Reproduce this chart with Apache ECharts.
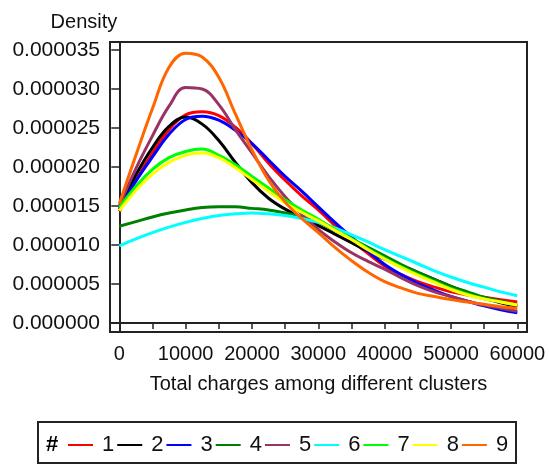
<!DOCTYPE html>
<html>
<head>
<meta charset="utf-8">
<script src="https://cdn.jsdelivr.net/npm/echarts@6/dist/echarts.min.js"></script>
<style>
  html, body { margin: 0; padding: 0; background: #fff; }
  #chart { width: 549px; height: 465px; }
</style>
</head>
<body>
<div id="chart"></div>
<script>
// density values are in units of 1e-6, read every 2500 of charges
var charges = [0, 2500, 5000, 7500, 10000, 12500, 15000, 17500, 20000, 22500, 25000, 27500, 30000,
    32500, 35000, 37500, 40000, 42500, 45000, 47500, 50000, 52500, 55000, 57500, 60000];
var clusterNames = ['1', '2', '3', '4', '5', '6', '7', '8', '9'];
var clusterColors = ['#ff0000', '#000000', '#0000ff', '#008000', '#993366', '#00ffff', '#00ff00', '#ffff00', '#ff6600'];

var c1 = [14.3, 18.3, 21.8, 24.8, 26.7, 27.1, 26.6, 25.1, 23.0, 20.5, 18.3, 16.3, 14.5, 12.5, 10.6, 8.9, 7.3, 6.2, 5.3, 4.6, 4.0, 3.6, 3.3, 3.0, 2.7];
var c2 = [14.8, 19.0, 22.5, 25.2, 26.4, 25.5, 23.4, 20.6, 18.0, 16.0, 14.6, 13.5, 12.5, 11.4, 10.3, 9.2, 8.2, 7.4, 6.5, 5.6, 4.7, 3.9, 3.2, 2.6, 2.1];
var c3 = [14.6, 18.2, 21.3, 24.2, 26.1, 26.5, 26.0, 24.7, 23.0, 20.9, 18.8, 16.9, 14.9, 12.9, 11.0, 9.2, 7.5, 6.2, 5.1, 4.2, 3.4, 2.8, 2.2, 1.7, 1.3];
var c4 = [12.4, 13.0, 13.6, 14.1, 14.5, 14.8, 14.9, 14.9, 14.7, 14.5, 14.1, 13.6, 12.9, 11.9, 10.8, 9.7, 8.6, 7.5, 6.5, 5.6, 4.7, 4.0, 3.3, 2.8, 2.3];
var c5 = [15.0, 19.8, 24.0, 27.8, 30.2, 30.0, 28.0, 24.8, 21.8, 18.8, 16.2, 14.0, 12.0, 10.4, 9.0, 7.9, 6.9, 5.8, 4.8, 4.0, 3.4, 2.8, 2.3, 1.9, 1.5];
var c6 = [9.9, 10.8, 11.6, 12.3, 12.9, 13.4, 13.8, 14.0, 14.1, 14.0, 13.8, 13.4, 12.9, 12.2, 11.3, 10.4, 9.4, 8.5, 7.6, 6.7, 5.9, 5.2, 4.6, 4.0, 3.5];
var c7 = [14.8, 17.5, 19.7, 21.2, 22.0, 22.3, 21.5, 20.3, 18.8, 17.3, 15.8, 14.5, 13.3, 12.0, 10.8, 9.5, 8.3, 7.2, 6.2, 5.3, 4.4, 3.7, 3.1, 2.7, 2.3];
var c8 = [14.4, 17.0, 19.1, 20.6, 21.5, 21.8, 21.2, 19.9, 18.4, 16.9, 15.4, 14.2, 13.1, 11.9, 10.7, 9.4, 8.2, 7.1, 6.1, 5.2, 4.3, 3.6, 3.1, 2.7, 2.3];
var c9 = [15.3, 21.5, 27.5, 32.8, 34.6, 34.1, 31.5, 26.8, 22.2, 18.3, 15.5, 13.4, 11.6, 9.7, 8.0, 6.5, 5.3, 4.5, 3.8, 3.4, 3.0, 2.7, 2.4, 2.1, 1.9];
var clusterValues = [c1, c2, c3, c4, c5, c6, c7, c8, c9];

var xTicks = [0, 5000, 10000, 15000, 20000, 25000, 30000, 35000, 40000, 45000, 50000, 55000, 60000];
var xLabels = [0, 10000, 20000, 30000, 40000, 50000, 60000];
var yTicks = [0, 5, 10, 15, 20, 25, 30, 35];

var font = 'Liberation Sans, Arial, sans-serif';

var chart = echarts.init(document.getElementById('chart'));

var series = clusterNames.map(function (name, i) {
    return {
        name: name,
        type: 'line',
        smooth: 0.4,
        showSymbol: false,
        lineStyle: {color: clusterColors[i], width: 3},
        itemStyle: {color: clusterColors[i]},
        data: charges.map(function (x, j) { return [x, clusterValues[i][j]]; })
    };
});

chart.setOption({
    animation: false,
    textStyle: {fontFamily: font},
    grid: {
        left: 110, right: 22, top: 42, bottom: 133,
        show: true,
        borderColor: '#222',
        borderWidth: 2
    },
    xAxis: {
        type: 'value',
        min: -1400,
        max: 61460,
        name: 'Total charges among different clusters',
        nameLocation: 'middle',
        nameGap: 42,
        nameTextStyle: {fontSize: 20, color: '#111', fontFamily: font},
        axisLine: {show: true, lineStyle: {color: '#222', width: 2}},
        axisTick: {show: true, length: 6, lineStyle: {color: '#222', width: 1.5}, customValues: xTicks},
        axisLabel: {
            fontSize: 20, color: '#111', margin: 12, customValues: xLabels,
            formatter: function (v) { return String(v); }
        },
        splitLine: {show: false}
    },
    yAxis: {
        type: 'value',
        min: -1.15,
        max: 36.03,
        name: 'Density',
        nameLocation: 'end',
        nameGap: 10,
        nameTextStyle: {fontSize: 20, color: '#111', align: 'right', padding: [0, 2, 0, 0], fontFamily: font},
        axisLine: {show: true, lineStyle: {color: '#222', width: 2}},
        axisTick: {show: true, length: 8, lineStyle: {color: '#222', width: 1.5}, customValues: yTicks},
        axisLabel: {
            fontSize: 21, color: '#111', margin: 10, customValues: yTicks,
            formatter: function (v) { return (v / 1e6).toFixed(6); }
        },
        splitLine: {show: false}
    },
    legend: {
        data: clusterNames,
        left: 68,
        top: 434,
        padding: 0,
        icon: 'rect',
        itemWidth: 25,
        itemHeight: 2,
        itemGap: 3,
        selectedMode: false,
        textStyle: {fontSize: 22, color: '#111', padding: [0, 0, 0, 4], fontFamily: font}
    },
    graphic: [
        {
            type: 'rect',
            shape: {x: 38, y: 422, width: 478, height: 41},
            style: {fill: 'none', stroke: '#222', lineWidth: 2}
        },
        {
            type: 'text',
            left: 46,
            top: 434,
            style: {text: '#', font: 'bold 22px ' + font, fill: '#000'}
        }
    ],
    series: series
});
</script>
</body>
</html>
